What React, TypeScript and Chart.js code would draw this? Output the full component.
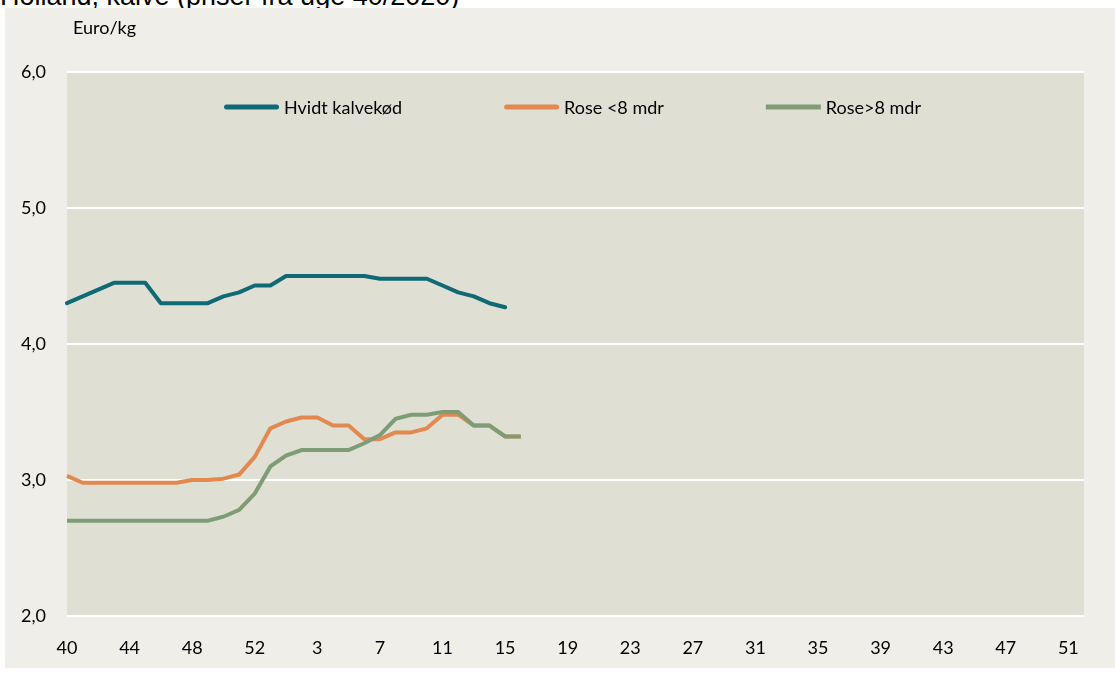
import React, { useEffect, useRef } from "react";
import { Chart, registerables } from "chart.js";

Chart.register(...registerables);

const TITLE = "Holland, kalve (priser fra uge 40/2020)";
const Y_UNIT = "Euro/kg";

const weeks: string[] = [
  "40", "41", "42", "43", "44", "45", "46", "47", "48", "49", "50", "51", "52", "53",
  "1", "2", "3", "4", "5", "6", "7", "8", "9", "10", "11", "12", "13", "14", "15", "16",
  "17", "18", "19", "20", "21", "22", "23", "24", "25", "26", "27", "28", "29", "30",
  "31", "32", "33", "34", "35", "36", "37", "38", "39", "40", "41", "42", "43", "44",
  "45", "46", "47", "48", "49", "50", "51", "52",
];

const hvidtKalvekod: number[] = [
  4.30, 4.35, 4.40, 4.45, 4.45, 4.45, 4.30, 4.30, 4.30, 4.30,
  4.35, 4.38, 4.43, 4.43, 4.50, 4.50, 4.50, 4.50, 4.50, 4.50,
  4.48, 4.48, 4.48, 4.48, 4.43, 4.38, 4.35, 4.30, 4.27,
];

const roseUnder8: number[] = [
  3.03, 2.98, 2.98, 2.98, 2.98, 2.98, 2.98, 2.98, 3.00, 3.00,
  3.01, 3.04, 3.17, 3.38, 3.43, 3.46, 3.46, 3.40, 3.40, 3.30,
  3.30, 3.35, 3.35, 3.38, 3.48, 3.48, 3.40, 3.40, 3.32, 3.32,
];

const roseOver8: number[] = [
  2.70, 2.70, 2.70, 2.70, 2.70, 2.70, 2.70, 2.70, 2.70, 2.70,
  2.73, 2.78, 2.90, 3.10, 3.18, 3.22, 3.22, 3.22, 3.22, 3.27,
  3.33, 3.45, 3.48, 3.48, 3.50, 3.50, 3.40, 3.40, 3.32, 3.32,
];

const seriesLabels = ["Hvidt kalvekød", "Rose <8 mdr", "Rose>8 mdr"];
const seriesColors = ["#0F6A76", "#E2894F", "#7E9D77"];
const legendCaps = ["round", "round", "butt"];

const FONT = "Lato, 'Noto Sans', sans-serif";
const FONT_SIZE = 18;
const TEXT_COLOR = "#000000";
const PLOT_BG = "#E0DFD4";
const FRAME_BG = "#EFEEE8";

const plotBgPlugin = {
  id: "plotBg",
  beforeDraw(chart: any) {
    const { ctx, chartArea } = chart;
    ctx.save();
    ctx.fillStyle = PLOT_BG;
    ctx.fillRect(chartArea.left, chartArea.top, chartArea.right - chartArea.left, chartArea.bottom - chartArea.top);
    ctx.restore();
  },
};

const annotPlugin = {
  id: "annot",
  afterDatasetsDraw(chart: any) {
    const { ctx, chartArea } = chart;
    ctx.save();
    ctx.font = `${FONT_SIZE}px ${FONT}`;
    ctx.fillStyle = TEXT_COLOR;
    ctx.textBaseline = "middle";
    ctx.textAlign = "left";
    // unit label
    ctx.fillText(Y_UNIT, chartArea.left + 6, 20);

    // legend
    const lineLen = 55;
    const gap = 5;
    const itemGap = 102;
    const dsList = chart.data.datasets;
    const items = dsList.map((ds: any, i: number) => ({
      label: ds.label,
      color: ds.borderColor,
      cap: legendCaps[i],
      w: ctx.measureText(ds.label).width,
    }));
    const total =
      items.reduce((s: number, it: any) => s + lineLen + gap + it.w, 0) + itemGap * (items.length - 1);
    let x = (chartArea.left + chartArea.right) / 2 - total / 2 - 3;
    const y = chartArea.top + 35;
    for (const it of items) {
      ctx.beginPath();
      ctx.strokeStyle = it.color;
      ctx.lineWidth = 5;
      ctx.lineCap = it.cap;
      const capPad = it.cap === "round" ? 2.5 : 0;
      ctx.moveTo(x + capPad, y);
      ctx.lineTo(x + lineLen - capPad, y);
      ctx.stroke();
      ctx.fillStyle = TEXT_COLOR;
      ctx.fillText(it.label, x + lineLen + gap, y + 1);
      x += lineLen + gap + it.w + itemGap;
    }
    ctx.restore();
  },
};

export default function App() {
  const canvasRef = useRef<HTMLCanvasElement | null>(null);

  useEffect(() => {
    if (!canvasRef.current) return;
    const chart = new Chart(canvasRef.current, {
      type: "line",
      data: {
        labels: weeks,
        datasets: [
          {
            label: seriesLabels[0],
            data: hvidtKalvekod,
            borderColor: seriesColors[0],
            backgroundColor: seriesColors[0],
            borderWidth: 4,
            borderCapStyle: "round",
            borderJoinStyle: "round",
            pointRadius: 0,
            tension: 0,
            order: 0,
          },
          {
            label: seriesLabels[1],
            data: roseUnder8,
            borderColor: seriesColors[1],
            backgroundColor: seriesColors[1],
            borderWidth: 4,
            borderCapStyle: "butt",
            borderJoinStyle: "round",
            pointRadius: 0,
            tension: 0,
            order: 2,
          },
          {
            label: seriesLabels[2],
            data: roseOver8,
            borderColor: seriesColors[2],
            backgroundColor: seriesColors[2],
            borderWidth: 4,
            borderCapStyle: "butt",
            borderJoinStyle: "miter",
            pointRadius: 0,
            tension: 0,
            order: 1,
          },
        ],
      },
      options: {
        responsive: false,
        animation: false,
        layout: { padding: { top: 64, right: 31, left: 0, bottom: 0 } },
        plugins: {
          legend: { display: false },
          tooltip: { enabled: false },
          title: { display: false },
        },
        scales: {
          x: {
            offset: false,
            grid: { display: false, drawTicks: false },
            border: { display: false },
            ticks: {
              autoSkip: false,
              maxRotation: 0,
              minRotation: 0,
              padding: 21,
              color: TEXT_COLOR,
              font: { family: FONT, size: FONT_SIZE },
              callback: (_v: any, i: number) => (i % 4 === 0 ? weeks[i] : ""),
            },
            afterFit: (scale: any) => {
              scale.height = 52;
            },
          },
          y: {
            min: 2,
            max: 6,
            grid: { color: "#FFFFFF", lineWidth: 2, drawTicks: false },
            border: { display: false },
            ticks: {
              stepSize: 1,
              padding: 21,
              color: TEXT_COLOR,
              font: { family: FONT, size: FONT_SIZE },
              callback: (v: any) => Number(v).toFixed(1).replace(".", ","),
            },
            afterFit: (scale: any) => {
              scale.width = 62;
            },
          },
        },
      },
      plugins: [plotBgPlugin, annotPlugin],
    });
    return () => chart.destroy();
  }, []);

  return (
    <div
      style={{
        position: "fixed",
        left: 0,
        top: 0,
        width: 1115,
        height: 673,
        background: "#FFFFFF",
        overflow: "hidden",
      }}
    >
      <div
        style={{
          position: "absolute",
          left: 0,
          top: -17,
          fontFamily: "'Liberation Sans', Arial, sans-serif",
          fontSize: 27,
          lineHeight: "27px",
          color: "#000",
          whiteSpace: "nowrap",
        }}
      >
        {TITLE}
      </div>
      <div
        style={{
          position: "absolute",
          left: 5,
          top: 8,
          width: 1110,
          height: 660,
          background: FRAME_BG,
        }}
      >
        <canvas ref={canvasRef} width={1110} height={660} style={{ display: "block", width: 1110, height: 660 }} />
      </div>
    </div>
  );
}
